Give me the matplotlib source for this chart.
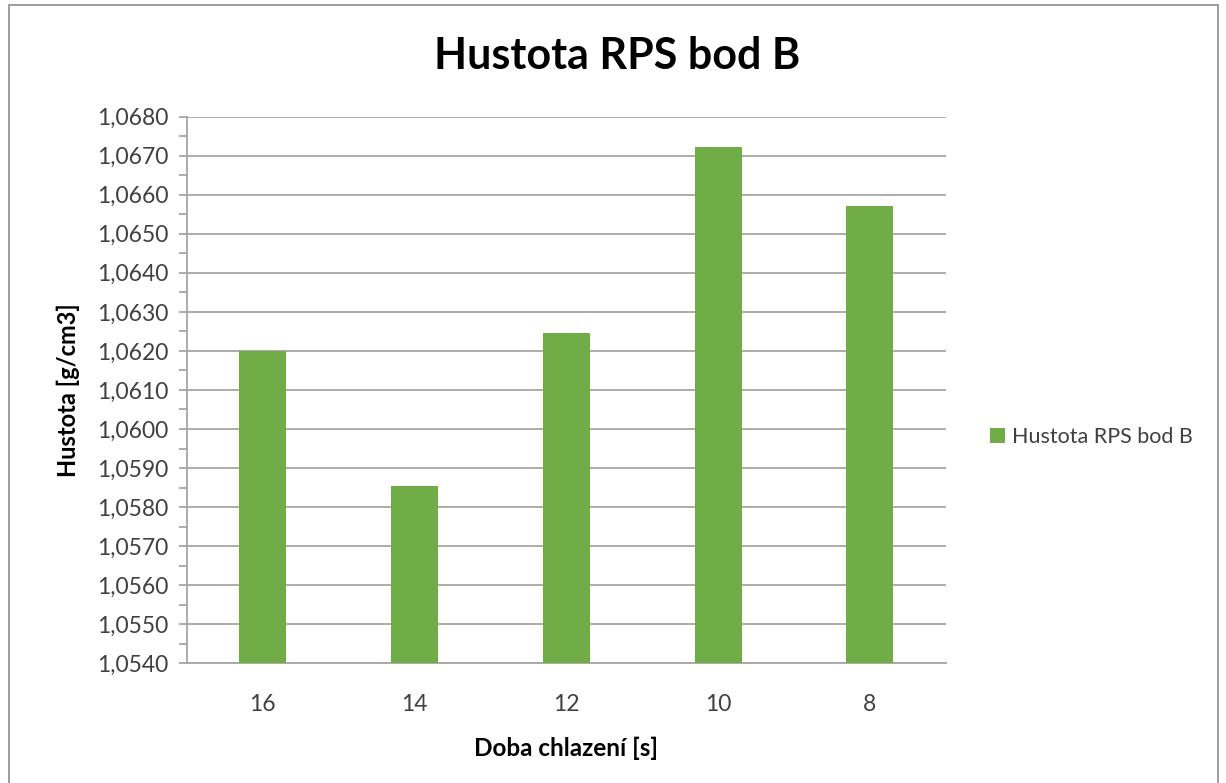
import matplotlib.pyplot as plt
from matplotlib.patches import Rectangle
from matplotlib.ticker import MultipleLocator, FuncFormatter

# Data
cooling_times = ['16', '14', '12', '10', '8']
density = [1.0620, 1.05855, 1.06247, 1.06722, 1.06570]
series_label = 'Hustota RPS bod B'

plt.rcParams['font.family'] = ['Lato', 'DejaVu Sans']

fig = plt.figure(figsize=(12.26, 7.83), dpi=100)
ax = fig.add_axes([0.1523, 0.1529, 0.6191, 0.6981])

x = range(len(cooling_times))
ax.bar(x, density, width=0.31, color='#70ad47', label=series_label, zorder=3)

ax.set_xlim(-0.5, len(cooling_times) - 0.5)
ax.set_ylim(1.0540, 1.0680)
ax.set_xticks(list(x))
ax.set_xticklabels(cooling_times)

ax.yaxis.set_major_locator(MultipleLocator(0.001))
ax.yaxis.set_minor_locator(MultipleLocator(0.0005))
ax.yaxis.set_major_formatter(FuncFormatter(lambda v, p: f'{v:.4f}'.replace('.', ',')))

ax.grid(axis='y', color='#a6a6a6', linewidth=1.3, zorder=0)
for side in ['top', 'right']:
    ax.spines[side].set_visible(False)
for side in ['left', 'bottom']:
    ax.spines[side].set_color('#a6a6a6')
    ax.spines[side].set_linewidth(1.3)

ax.tick_params(axis='y', which='both', length=6, color='#a6a6a6', width=1.3,
               labelsize=16.5, labelcolor='#404040', pad=7)
ax.tick_params(axis='x', length=0, labelsize=16.5, labelcolor='#404040', pad=22)

ax.set_xlabel('Doba chlazení [s]', fontsize=17.5, fontweight='bold', labelpad=16)
ax.set_ylabel('Hustota [g/cm3]', fontsize=17, fontweight='bold', labelpad=12)

fig.text(0.503, 0.928, 'Hustota RPS bod B', fontsize=31, fontweight='bold',
         ha='center', va='center')

fig.legend(loc='center left', bbox_to_anchor=(0.792, 0.442), frameon=False,
           fontsize=15.5, handlelength=0.7, handleheight=0.7, handletextpad=0.3,
           labelcolor='#404040')

# chart area border
fig.patches.append(Rectangle((8.5 / 1226, -0.05), (1218 - 8.5) / 1226, 1.05 - 5.5 / 783,
                             transform=fig.transFigure, fill=False,
                             edgecolor='#8c8c8c', linewidth=1.2, clip_on=False))

fig.savefig('out.png', dpi=100)
